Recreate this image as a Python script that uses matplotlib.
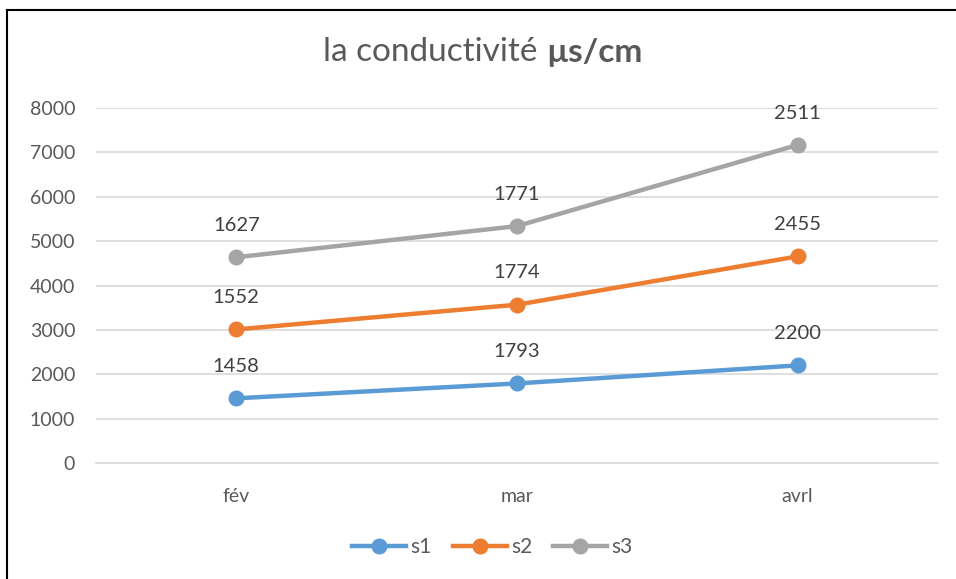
import numpy as np
import matplotlib.pyplot as plt
from matplotlib.lines import Line2D

plt.rcParams['font.family'] = ['Lato', 'DejaVu Sans']

# Données (graphique en courbes empilées)
mois = ['fév', 'mar', 'avrl']
s1 = [1458, 1793, 2200]
s2 = [1552, 1774, 2455]
s3 = [1627, 1771, 2511]

couleurs = ['#5B9BD5', '#ED7D31', '#A5A5A5']
series = [('s1', s1), ('s2', s2), ('s3', s3)]

fig = plt.figure(figsize=(9.56, 5.79), dpi=100)
ax = fig.add_axes([0.1004, 0.2003, 0.8806, 0.6132])

x = np.arange(len(mois))
cumul = np.zeros(len(mois))
for (nom, vals), c in zip(series, couleurs):
    cumul = cumul + np.array(vals)
    ax.plot(x, cumul, color=c, lw=3.2, marker='o', ms=10.5, label=nom,
            solid_capstyle='round', zorder=3)
    for xi, yi, v in zip(x, cumul, vals):
        ax.annotate(str(v), (xi, yi), xytext=(0, 23), textcoords='offset points',
                    ha='center', va='center', fontsize=14.5, color='#404040')

ax.set_xlim(-0.5, 2.5)
ax.set_ylim(0, 8000)
ax.set_yticks(np.arange(0, 8001, 1000))
ax.set_xticks(x)
ax.set_xticklabels(mois)
ax.yaxis.grid(True, color='#D9D9D9', lw=1.2)
ax.set_axisbelow(True)
for s in ax.spines.values():
    s.set_visible(False)
ax.spines['bottom'].set_visible(True)
ax.spines['bottom'].set_color('#D9D9D9')
ax.spines['bottom'].set_linewidth(1.2)
ax.tick_params(length=0, labelsize=14, colors='#595959')
ax.tick_params(axis='y', pad=15)
ax.tick_params(axis='x', pad=18)

# titre : partie normale + unité en gras
fig.text(0.5617, 0.910, 'la conductivité', ha='right', va='center',
         fontsize=24, color='#595959')
fig.text(0.5715, 0.910, 'µs/cm', ha='left', va='center',
         fontsize=24, color='#595959', fontweight='bold')

handles = [Line2D([0], [0], color=c, lw=3.2, marker='o', ms=10.5) for c in couleurs]
fig.legend(handles, ['s1', 's2', 's3'], loc='center', bbox_to_anchor=(0.515, 0.055),
           ncol=3, frameon=False, fontsize=15, labelcolor='#595959',
           handlelength=2.6, columnspacing=1.0, handletextpad=0.2)

# cadre (bords haut et gauche visibles)
fig.add_artist(Line2D([0.0073, 0.0073], [0, 0.983], color='black', lw=1.5,
                      transform=fig.transFigure))
fig.add_artist(Line2D([0.0073, 1], [0.983, 0.983], color='black', lw=1.5,
                      transform=fig.transFigure))

fig.savefig('out.png', dpi=100)
